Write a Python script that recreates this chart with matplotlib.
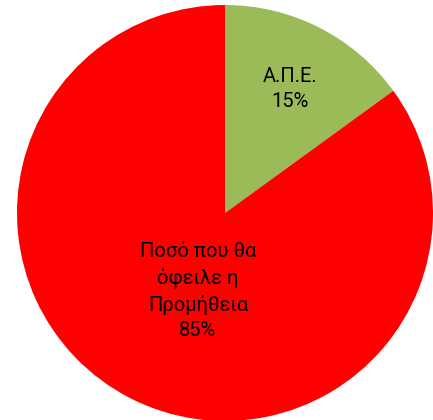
import matplotlib
matplotlib.use("Agg")
import matplotlib.pyplot as plt

categories = ["Α.Π.Ε.", "Ποσό που θα\nόφειλε η\nΠρομήθεια"]
values = [15, 85]
colors = ["#9BBB59", "#FF0000"]

plt.rcParams['font.family'] = ['Roboto', 'DejaVu Sans']

fig = plt.figure(figsize=(4.33, 4.20), dpi=100)
ax = fig.add_axes([0, 0, 1, 1])
ax.set_xlim(0, 433)
ax.set_ylim(0, 420)
ax.set_aspect('equal')
ax.axis('off')

total = sum(values)
labels = [f"{c}\n{round(v / total * 100)}%" for c, v in zip(categories, values)]

wedges, texts = ax.pie(values, colors=colors, startangle=90, counterclock=False,
                       center=(225, 207), radius=208, labels=labels,
                       labeldistance=0.68, frame=True,
                       textprops=dict(fontsize=14.5, color='black', ha='center', va='center',
                                      linespacing=1.42),
                       wedgeprops=dict(linewidth=0))
for t in texts:
    t.set_horizontalalignment('center')
    t.set_verticalalignment('center')
texts[0].set_position((290, 331))
texts[1].set_position((198, 129))
ax.axis('off')
fig.savefig("out.png", dpi=100)
